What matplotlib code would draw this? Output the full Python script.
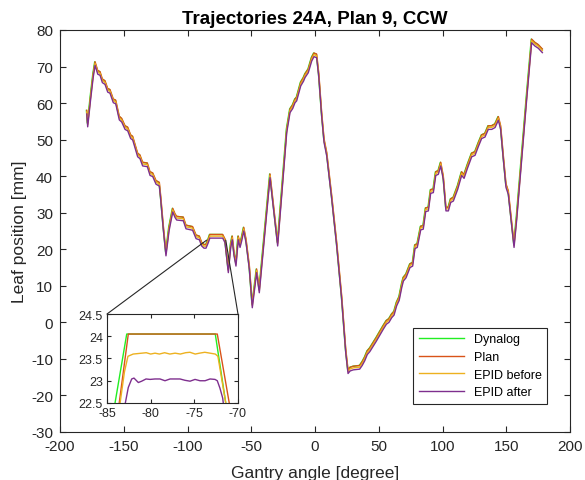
import matplotlib
matplotlib.use('Agg')
import matplotlib.pyplot as plt
from matplotlib.patches import ConnectionPatch

plt.rcParams['font.family'] = ['Liberation Sans', 'DejaVu Sans']
plt.rcParams['axes.unicode_minus'] = False

# plan trajectory (gantry angle [deg], leaf position [mm])
plan_angle = [-179, -178.3, -176, -174, -172.5, -170.4, -168.6, -166.8, -164.7, -162.6,
              -160.8, -158.2, -156.3, -153.5, -151.6, -149, -146.9, -144.6, -143.0, -139.1,
              -137.3, -135.2, -131.5, -129.4, -127.3, -124.7, -122.1, -121.0, -119, -116.9,
              -114.5, -111.6, -109.8, -108.5, -103.3, -101.2, -96.0, -93.3, -90.7, -88.9,
              -87.1, -85.5, -83.7, -82.5, -72.4, -70.6, -68.0, -66.1, -64.9, -63.5,
              -62.0, -60.2, -58.8, -57.5, -55.9, -54.1, -51.5, -49.2, -45.8, -43.7,
              -35.3, -29.3, -22.2, -19.6, -17.5, -15.7, -14.4, -11.2, -9.0, -7.8,
              -5.3, -2.6, -0.8, 1.3, 3.0, 5.2, 7.1, 9.2, 13.1, 17.0,
              20.9, 24.1, 25.9, 27.5, 30, 35, 37, 39, 41, 43,
              45.7, 48, 50, 53.5, 56, 58, 60.2, 62, 64, 66,
              68, 69.3, 71.4, 74.5, 76.6, 78.4, 80.2, 82.9,
              84.9, 86.8, 88.9, 90.7, 92.8, 94.7, 96.7, 98.6, 100.6, 102.7,
              104.6, 106.4, 108.5, 111.9, 115, 116.9, 119.5, 122.9, 125.5, 128.1,
              130.7, 133.3, 135.9, 138.6, 141.2, 143.8, 145.6, 147.7, 149.8, 151.6,
              153.7, 156.1, 158.2, 162.1, 166.0, 169.9, 172.5, 175.1, 178.3]
plan_pos = [58, 54.5, 62, 68, 71.3, 68.9, 68.6, 66.6, 66.1, 64.0,
            63.7, 61.1, 60.8, 56.4, 55.8, 53.8, 53.4, 51.3, 50.9, 46.3,
            45.8, 43.8, 43.6, 41.2, 40.9, 38.8, 38.3, 34.5, 26.5, 19.2,
            26.0, 31.2, 29.7, 29.0, 28.8, 26.6, 26.2, 23.9, 23.6, 21.9,
            21.3, 21.3, 22.8, 24.05, 24.05, 22.8, 14.6, 21.5, 23.6, 19.2,
            16.4, 23.6, 21.5, 23.3, 26.0, 22.8, 15.5, 5.0, 14.6, 9.1,
            40.6, 21.9, 52.9, 58.4, 59.5, 61.1, 61.6, 65.7, 67.0, 68.0,
            69.3, 72.5, 73.7, 73.4, 68.0, 57.5, 50.2, 46.5, 34.7, 21.9,
            7.3, -7.3, -13.0, -12.3, -12.0, -11.8, -10.8, -9.5, -7.8, -7.0,
            -5.5, -4.2, -3.0, -0.9, 0.5, 1.0, 2.3, 3.0, 5.5, 7.0,
            10.5, 12.3, 13.2, 16.0, 16.4, 21.2, 21.5, 26.3,
            26.5, 31.3, 31.5, 36.3, 36.5, 41.2, 41.5, 43.8, 40.1, 31.5,
            31.5, 33.8, 34.2, 37.4, 41.2, 40.4, 43.1, 46.3, 46.7, 49.1,
            51.3, 51.7, 53.8, 53.8, 54.3, 56.3, 53.8, 45.6, 37.9, 36.0,
            29.2, 21.5, 29.2, 45.6, 62.0, 77.5, 76.6, 76.0, 74.8]

dynalog_lag = -0.3       # deg
epid_before_gap = -0.45  # mm
epid_after_gap = -1.0    # mm

# zoomed window (inset)
dyn_in_x = [-84.6, -84.08, -82.74, -72.6, -71.4, -70.9]
dyn_in_y = [21.9, 22.5, 24.05, 24.05, 22.5, 21.9]
plan_in_x = [-84.1, -83.6, -82.56, -72.37, -71.0, -70.5]
plan_in_y = [21.9, 22.5, 24.05, 24.05, 22.5, 21.9]
epb_in_x = [-83.9, -83.5, -83.0, -82.6, -82.0, -81.0, -80.5, -80.0, -79.5, -79.0,
            -78.4, -77.8, -77.2, -76.6, -76.0, -75.5, -74.9, -74.4, -73.8, -73.2,
            -72.6, -72.3, -72.0, -71.4, -71.0]
epb_in_y = [21.9, 22.5, 23.2, 23.55, 23.6, 23.62, 23.63, 23.6, 23.62, 23.6,
            23.63, 23.6, 23.62, 23.6, 23.63, 23.64, 23.6, 23.62, 23.64, 23.62,
            23.6, 23.55, 23.2, 22.5, 21.9]
epa_in_x = [-83.2, -82.9, -82.56, -82.17, -81.91, -81.41, -81.03, -80.53, -80.07, -79.50,
            -78.93, -78.36, -77.78, -77.21, -76.64, -76.07, -75.49, -74.92, -74.35, -73.77,
            -73.20, -72.63, -72.37, -72.06, -71.75, -71.5]
epa_in_y = [22.0, 22.5, 22.85, 23.04, 23.06, 22.96, 22.99, 23.04, 23.03, 23.04,
            23.04, 23.0, 23.04, 23.04, 23.04, 23.01, 22.99, 23.03, 23.0, 23.0,
            23.04, 23.03, 23.0, 22.83, 22.61, 22.2]

c_dyn = '#22ee22'
c_plan = '#d95319'
c_epb = '#edb120'
c_epa = '#7e2f8e'
c_axis = '#262626'

fig = plt.figure(figsize=(5.85, 4.81), dpi=100)
ax = fig.add_axes([0.1026, 0.0998, 0.8718, 0.8358])

ax.plot([a + dynalog_lag for a in plan_angle], plan_pos, color=c_dyn, lw=1, label='Dynalog')
ax.plot(plan_angle, plan_pos, color=c_plan, lw=1, label='Plan')
ax.plot(plan_angle, [p + epid_before_gap for p in plan_pos], color=c_epb, lw=1, label='EPID before')
ax.plot(plan_angle, [p + epid_after_gap for p in plan_pos], color=c_epa, lw=1, label='EPID after')

ax.set_xlim(-200, 200)
ax.set_ylim(-30, 80)
ax.set_xticks(range(-200, 201, 50))
ax.set_yticks(range(-30, 81, 10))
ax.tick_params(direction='in', top=True, right=True, labelsize=11, colors=c_axis,
               length=4, pad=5)
for s in ax.spines.values():
    s.set_color(c_axis)
    s.set_linewidth(0.8)
ax.set_title('Trajectories 24A, Plan 9, CCW', fontsize=13.5, fontweight='bold', pad=5)
ax.set_xlabel('Gantry angle [degree]', fontsize=12.5, color=c_axis, labelpad=9)
ax.set_ylabel('Leaf position [mm]', fontsize=12.5, color=c_axis, labelpad=3)

leg = ax.legend(loc='lower right', bbox_to_anchor=(0.9555, 0.0697), fontsize=9,
                fancybox=False, edgecolor=c_axis, framealpha=1, handlelength=3.6,
                borderpad=0.45, labelspacing=0.45, borderaxespad=0)
leg.get_frame().set_linewidth(0.8)

# inset
axi = fig.add_axes([0.1829, 0.1601, 0.2239, 0.185])
axi.plot(dyn_in_x, dyn_in_y, color=c_dyn, lw=1)
axi.plot(plan_in_x, plan_in_y, color=c_plan, lw=1)
axi.plot(epb_in_x, epb_in_y, color=c_epb, lw=1)
axi.plot(epa_in_x, epa_in_y, color=c_epa, lw=1)
axi.set_xlim(-85, -70)
axi.set_ylim(22.5, 24.5)
axi.set_xticks([-85, -80, -75, -70])
axi.set_yticks([22.5, 23, 23.5, 24, 24.5])
axi.set_yticklabels(['22.5', '23', '23.5', '24', '24.5'])
axi.tick_params(direction='in', top=True, right=True, labelsize=9, colors=c_axis,
                length=3, pad=3)
for s in axi.spines.values():
    s.set_color(c_axis)
    s.set_linewidth(0.8)

for xa, xd in [(0, -85), (1, -70)]:
    con = ConnectionPatch(xyA=(xa, 1), coordsA=axi.transAxes,
                          xyB=(xd, 22.5), coordsB=ax.transData,
                          color=c_axis, lw=0.8)
    fig.add_artist(con)

fig.savefig('out.png', dpi=100)
